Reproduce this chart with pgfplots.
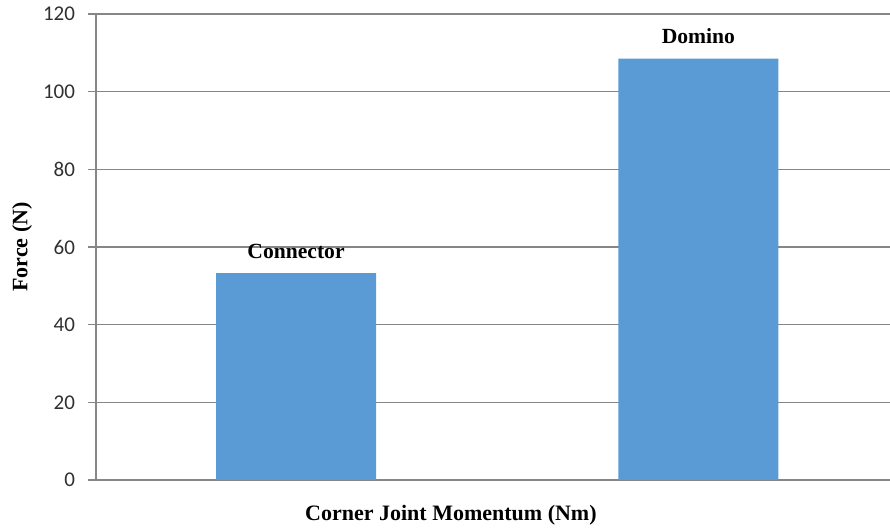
\documentclass[border=0pt]{standalone}
\usepackage{pgfplots}
\pgfplotsset{compat=1.18}
\usepackage{fontspec}
\setmainfont{Liberation Serif}
\newfontfamily\tickfont{Carlito}
\definecolor{barblue}{HTML}{5B9BD5}
\definecolor{gridgray}{HTML}{868686}
\definecolor{ticktext}{HTML}{303030}
\begin{document}
\begin{tikzpicture}
\begin{axis}[
  at={(0,0)}, anchor=south west,
  scale only axis, width=397pt, height=233pt,
  xmin=-0.497, xmax=1.476, ymin=0, ymax=120,
  ytick={0,20,...,120}, xtick=\empty,
  axis x line*=bottom, axis y line*=left,
  ymajorgrids, grid style={gridgray, line width=0.6pt},
  axis line style={gridgray, line width=0.6pt},
  y tick style={gridgray, line width=0.6pt}, tick align=outside, major tick length=4pt,
  /pgf/number format/assume math mode=true,
  yticklabel style={font=\tickfont\fontsize{10.5}{12}\selectfont, text=ticktext, xshift=-3pt},
  ylabel={\bfseries Force (N)}, xlabel={\bfseries Corner Joint Momentum (Nm)},
  label style={font=\fontsize{11}{12}\selectfont},
  ylabel style={at={(axis description cs:-0.093,0.5)}, anchor=center},
  xlabel style={at={(axis description cs:0.447,-0.075)}, anchor=center},
  ybar, bar width=80pt,
  nodes near coords, point meta=explicit symbolic,
  every node near coord/.append style={font=\bfseries\fontsize{10.8}{12}\selectfont, text=black, yshift=3.8pt},
]
\addplot[fill=barblue, draw=none] table[meta=label] {
x y label
0 53.3 Connector
1 108.5 Domino
};
\end{axis}
\pgfresetboundingbox
\path (-48pt,-24pt) rectangle (397pt,240pt);
\end{tikzpicture}
\end{document}
